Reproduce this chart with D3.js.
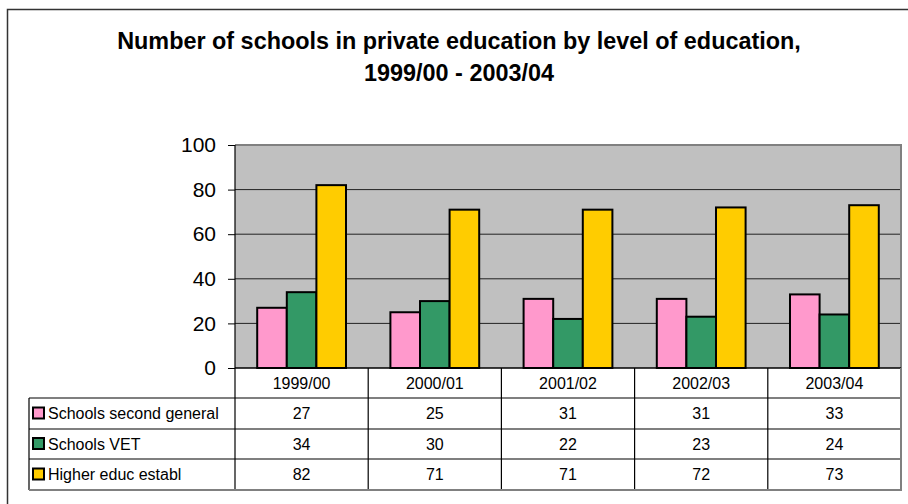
<!DOCTYPE html>
<html>
<head>
<meta charset="utf-8">
<script src="https://cdn.jsdelivr.net/npm/d3@7"></script>
<style>
  html, body { margin: 0; padding: 0; background: #fff; }
  svg { display: block; font-family: Arial, "Liberation Sans", sans-serif; }
</style>
</head>
<body>
<svg id="chart" width="908" height="504"></svg>
<script>
// Academic years shown along the x axis
const categories = ["1999/00", "2000/01", "2001/02", "2002/03", "2003/04"];
// Series names and values (number of schools)
const seriesNames = ["Schools second general", "Schools VET", "Higher educ establ"];
const secondGeneral = [27, 25, 31, 31, 33];
const vet = [34, 30, 22, 23, 24];
const higherEduc = [82, 71, 71, 72, 73];
const seriesColors = ["#ff99cc", "#339966", "#ffcc00"];
const yTicks = [0, 20, 40, 60, 80, 100];

const seriesValues = [secondGeneral, vet, higherEduc];

const svg = d3.select("#chart");

// Outer chart frame (open on right and bottom edges of the canvas)
svg.append("rect")
  .attr("x", 7.5).attr("y", 9.5)
  .attr("width", 920).attr("height", 520)
  .attr("fill", "none").attr("stroke", "#333").attr("stroke-width", 1.5);

// Title
const title = svg.append("text")
  .attr("text-anchor", "middle")
  .attr("font-weight", "bold")
  .attr("font-size", 23.4)
  .attr("fill", "#000");
title.append("tspan").attr("x", 459).attr("y", 49)
  .text("Number of schools in private education by level of education,");
title.append("tspan").attr("x", 459).attr("y", 81)
  .text("1999/00 - 2003/04");

// Plot geometry
const plot = { left: 235, right: 901, top: 145, bottom: 368 };

const x0 = d3.scaleBand().domain(categories).range([plot.left, plot.right]).padding(0);
const barW = x0.bandwidth() / 4.5;   // gap width of 150% between groups
const x1 = d3.scaleBand().domain(d3.range(seriesNames.length)).range([0, barW * 3]).padding(0);
const y = d3.scaleLinear().domain([0, 100]).range([plot.bottom, plot.top]);

// Plot background
svg.append("rect")
  .attr("x", plot.left).attr("y", plot.top)
  .attr("width", plot.right - plot.left).attr("height", plot.bottom - plot.top)
  .attr("fill", "#c0c0c0");

// Horizontal gridlines
svg.append("g")
  .selectAll("line")
  .data(yTicks.filter(t => t > 0 && t < 100))
  .join("line")
  .attr("x1", plot.left).attr("x2", plot.right)
  .attr("y1", d => y(d)).attr("y2", d => y(d))
  .attr("stroke", "#222").attr("stroke-width", 1);

// Plot border: grey top and right edges
svg.append("path")
  .attr("d", `M${plot.left},${plot.top} H${plot.right} V${plot.bottom}`)
  .attr("fill", "none").attr("stroke", "#808080").attr("stroke-width", 2);

// Bars
const groups = svg.append("g")
  .selectAll("g")
  .data(categories)
  .join("g")
  .attr("transform", d => `translate(${x0(d) + (x0.bandwidth() - barW * 3) / 2},0)`);

groups.selectAll("rect")
  .data((d, ci) => seriesValues.map((vals, si) => ({ si, v: vals[ci] })))
  .join("rect")
  .attr("x", d => x1(d.si))
  .attr("y", d => y(d.v))
  .attr("width", x1.bandwidth())
  .attr("height", d => y(0) - y(d.v))
  .attr("fill", d => seriesColors[d.si])
  .attr("stroke", "#000").attr("stroke-width", 2);

// Y axis
const yAxis = d3.axisLeft(y).tickValues(yTicks).tickSize(7).tickPadding(12);
const ya = svg.append("g").attr("transform", `translate(${plot.left},0)`).call(yAxis);
ya.select(".domain").remove();
ya.selectAll(".tick line").attr("stroke", "#000");
ya.selectAll(".tick text")
  .attr("font-size", 21).attr("font-family", "Arial, 'Liberation Sans', sans-serif")
  .attr("fill", "#000");

// Data table under the plot
const table = { left: 29, headerTop: 368, rowH: [30, 31, 30, 31] };
const rowTops = [table.headerTop];
table.rowH.forEach((h, i) => rowTops.push(rowTops[i] + h));
const tableBottom = rowTops[rowTops.length - 1];

const tg = svg.append("g");

// Value axis line, running down through the table
tg.append("line")
  .attr("x1", plot.left).attr("x2", plot.left)
  .attr("y1", plot.top).attr("y2", tableBottom)
  .attr("stroke", "#000").attr("stroke-width", 1.2);
// Category boundaries inside the table
tg.selectAll("line.v")
  .data(categories.slice(1).map(c => x0(c)))
  .join("line").attr("class", "v")
  .attr("x1", d => d).attr("x2", d => d)
  .attr("y1", plot.bottom).attr("y2", tableBottom)
  .attr("stroke", "#000").attr("stroke-width", 1.2);
// Left edge of legend column
tg.append("line")
  .attr("x1", table.left).attr("x2", table.left)
  .attr("y1", rowTops[1]).attr("y2", tableBottom)
  .attr("stroke", "#000").attr("stroke-width", 1.2);
// Horizontal row lines
tg.append("line")
  .attr("x1", plot.left).attr("x2", plot.right)
  .attr("y1", plot.bottom).attr("y2", plot.bottom)
  .attr("stroke", "#000").attr("stroke-width", 1.5);
tg.selectAll("line.h")
  .data(rowTops.slice(1, -1))
  .join("line").attr("class", "h")
  .attr("x1", table.left).attr("x2", plot.right)
  .attr("y1", d => d).attr("y2", d => d)
  .attr("stroke", "#000").attr("stroke-width", 1.2);
// Grey right and bottom edges of the table
tg.append("path")
  .attr("d", `M${plot.right},${plot.bottom} V${tableBottom} H${table.left}`)
  .attr("fill", "none").attr("stroke", "#808080").attr("stroke-width", 2);

// Category header labels
tg.selectAll("text.cat")
  .data(categories)
  .join("text").attr("class", "cat")
  .attr("x", d => x0(d) + x0.bandwidth() / 2)
  .attr("y", (rowTops[0] + rowTops[1]) / 2)
  .attr("dy", "0.36em")
  .attr("text-anchor", "middle")
  .attr("font-size", 16)
  .text(d => d);

// Series rows: legend key, name and values
seriesNames.forEach((name, si) => {
  const cy = (rowTops[si + 1] + rowTops[si + 2]) / 2;
  tg.append("rect")
    .attr("x", 33).attr("y", cy - 6)
    .attr("width", 11).attr("height", 11)
    .attr("fill", seriesColors[si])
    .attr("stroke", "#000").attr("stroke-width", 2);
  tg.append("text")
    .attr("x", 48).attr("y", cy).attr("dy", "0.36em")
    .attr("font-size", 16)
    .text(name);
  tg.selectAll(null)
    .data(seriesValues[si])
    .join("text")
    .attr("x", (d, ci) => x0(categories[ci]) + x0.bandwidth() / 2)
    .attr("y", cy).attr("dy", "0.36em")
    .attr("text-anchor", "middle")
    .attr("font-size", 16)
    .text(d => d);
});
</script>
</body>
</html>
